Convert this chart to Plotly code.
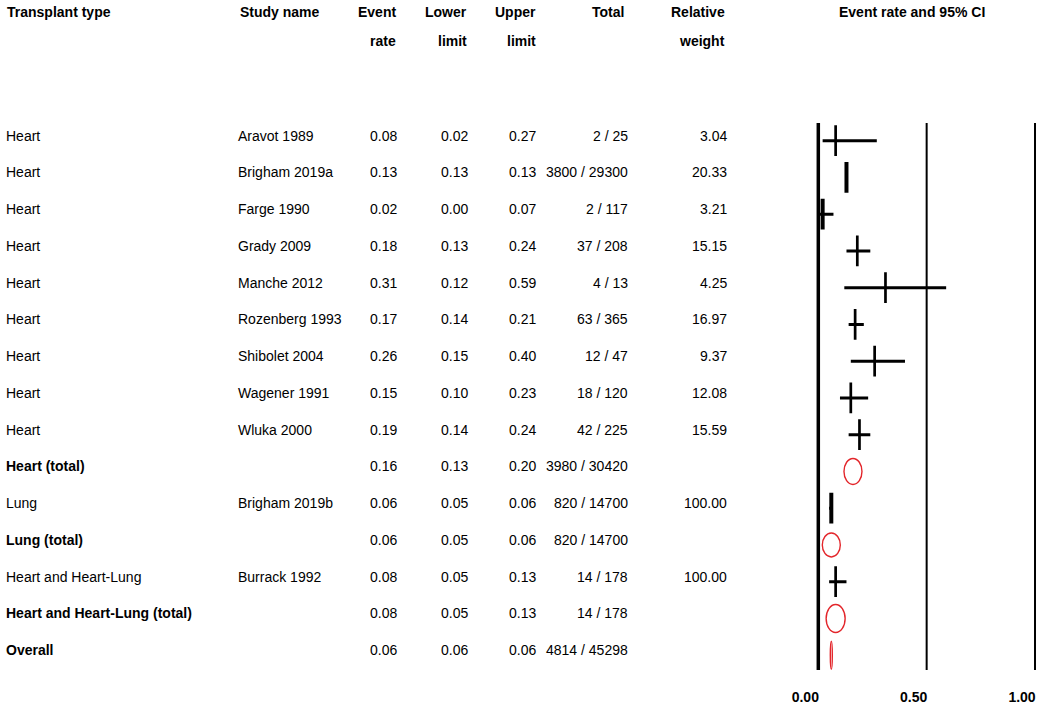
import plotly.graph_objects as go

# ---------------- data ----------------
transplant = ["Heart"] * 9 + ["Heart (total)", "Lung", "Lung (total)",
                              "Heart and Heart-Lung", "Heart and Heart-Lung (total)", "Overall"]
study = ["Aravot 1989", "Brigham 2019a", "Farge 1990", "Grady 2009", "Manche 2012",
         "Rozenberg 1993", "Shibolet 2004", "Wagener 1991", "Wluka 2000", "",
         "Brigham 2019b", "", "Burrack 1992", "", ""]
rate = [0.08, 0.13, 0.02, 0.18, 0.31, 0.17, 0.26, 0.15, 0.19, 0.16, 0.06, 0.06, 0.08, 0.08, 0.06]
lower = [0.02, 0.13, 0.00, 0.13, 0.12, 0.14, 0.15, 0.10, 0.14, 0.13, 0.05, 0.05, 0.05, 0.05, 0.06]
upper = [0.27, 0.13, 0.07, 0.24, 0.59, 0.21, 0.40, 0.23, 0.24, 0.20, 0.06, 0.06, 0.13, 0.13, 0.06]
events = [2, 3800, 2, 37, 4, 63, 12, 18, 42, 3980, 820, 820, 14, 14, 4814]
totals = [25, 29300, 117, 208, 13, 365, 47, 120, 225, 30420, 14700, 14700, 178, 178, 45298]
weight = [3.04, 20.33, 3.21, 15.15, 4.25, 16.97, 9.37, 12.08, 15.59, None, 100.00, None, 100.00, None, None]
is_summary = [False] * 9 + [True, False, True, False, True, True]
tick_vals = [0.0, 0.5, 1.0]
tick_text = ["0.00", "0.50", "1.00"]
header1 = ["Transplant type", "Study name", "Event", "Lower", "Upper", "Total", "Relative"]
header2 = ["", "", "rate", "limit", "limit", "", "weight"]
plot_title = "Event rate and 95% CI"

# ---------------- styles / geometry ----------------
W, H = 1040, 705
FONT = "Arial, Liberation Sans, sans-serif"
RED = "#e3262b"
# summary ellipse pixel sizes (width, height)
ell_w = {9: 18, 11: 18, 13: 19, 14: 2}
ell_h = {9: 26, 11: 24, 13: 28, 14: 28}
# point tick stroke widths per row (thicker where drawn heavier in the source)
tick_w = {1: 4, 2: 4, 10: 4}

row0_px, row_step = 140.7, 36.75
plot_top, plot_bot = 123, 670
x0_px, x1_px = 818.3, 1035.0          # pixel of value 0 and 1
ppu = x1_px - x0_px
xr = [-0.05, 1.02]
dom = [(x0_px + xr[0] * ppu) / W, (x0_px + xr[1] * ppu) / W]

rows = list(range(len(rate)))
fig = go.Figure()

# CI lines
cx, cy = [], []
for i in rows:
    if not is_summary[i]:
        cx += [lower[i], upper[i], None]
        cy += [i, i, None]
fig.add_trace(go.Scatter(x=cx, y=cy, mode="lines",
                         line=dict(color="black", width=3), hoverinfo="skip"))
# point ticks
study_rows = [i for i in rows if not is_summary[i]]
fig.add_trace(go.Scatter(x=[rate[i] for i in study_rows], y=study_rows, mode="markers",
                         marker=dict(symbol="line-ns", size=22,
                                     line=dict(color="black",
                                               width=[tick_w.get(i, 2.7) for i in study_rows])),
                         hoverinfo="skip"))

shapes = []
# reference lines
for v, w in zip(tick_vals, [3.5, 2, 2]):
    shapes.append(dict(type="line", xref="x", yref="paper", x0=v, x1=v, y0=0, y1=1,
                       line=dict(color="black", width=w)))
# summary ellipses
for i in rows:
    if is_summary[i]:
        shapes.append(dict(type="circle", xref="x", yref="y",
                           xsizemode="pixel", ysizemode="pixel",
                           xanchor=rate[i], yanchor=i,
                           x0=-ell_w[i] / 2, x1=ell_w[i] / 2,
                           y0=-ell_h[i] / 2, y1=ell_h[i] / 2,
                           line=dict(color=RED, width=1.4)))

ann = []
def txt(x_px, y, text, anchor, yref="y", bold=False, size=14, yshift=5):
    ann.append(dict(x=x_px / W, xref="paper", y=y, yref=yref, text=("<b>%s</b>" % text) if bold else text,
                    xanchor=anchor, yanchor="middle", showarrow=False, yshift=yshift,
                    font=dict(family=FONT, size=size, color="black")))

def fmt2(v):
    return "" if v is None else "%.2f" % v

for i in rows:
    txt(4, i, transplant[i], "left", bold=is_summary[i])
    if study[i]:
        txt(236, i, study[i], "left")
    txt(399, i, fmt2(rate[i]), "right")
    txt(470, i, fmt2(lower[i]), "right")
    txt(538, i, fmt2(upper[i]), "right")
    txt(630, i, "%d / %d" % (events[i], totals[i]), "right")
    if weight[i] is not None:
        txt(729, i, fmt2(weight[i]), "right")

def py(p):
    return (plot_bot - p) / (plot_bot - plot_top)

hx = [(5, "left"), (238, "left"), (398, "right"), (469, "right"), (538, "right"),
      (608, "center"), (727, "right")]
for (xp, anc), h1, h2 in zip(hx, header1, header2):
    txt(xp, py(12), h1, anc, yref="paper", bold=True, yshift=0)
    if h2:
        txt(xp, py(41), h2, anc, yref="paper", bold=True, yshift=0)
txt(911.5, py(12), plot_title, "center", yref="paper", bold=True, yshift=0)

fig.update_layout(
    width=W, height=H, autosize=False,
    margin=dict(l=0, r=0, t=plot_top, b=H - plot_bot, pad=0),
    paper_bgcolor="white", plot_bgcolor="white",
    showlegend=False, shapes=shapes, annotations=ann,
    xaxis=dict(domain=dom, range=xr, showgrid=False, zeroline=False, showline=False,
               ticks="", tickvals=tick_vals, ticktext=tick_text,
               tickfont=dict(family=FONT, size=14, color="black", weight="bold"),
               ticklabelshift=-13, ticklabelstandoff=17, automargin=False, fixedrange=True),
    yaxis=dict(range=[(plot_bot - row0_px) / row_step, (plot_top - row0_px) / row_step],
               visible=False, automargin=False, fixedrange=True),
)
fig.write_html("out.html", config={"displayModeBar": False},
               post_script="document.body.style.margin='0';document.body.style.overflow='hidden';")
